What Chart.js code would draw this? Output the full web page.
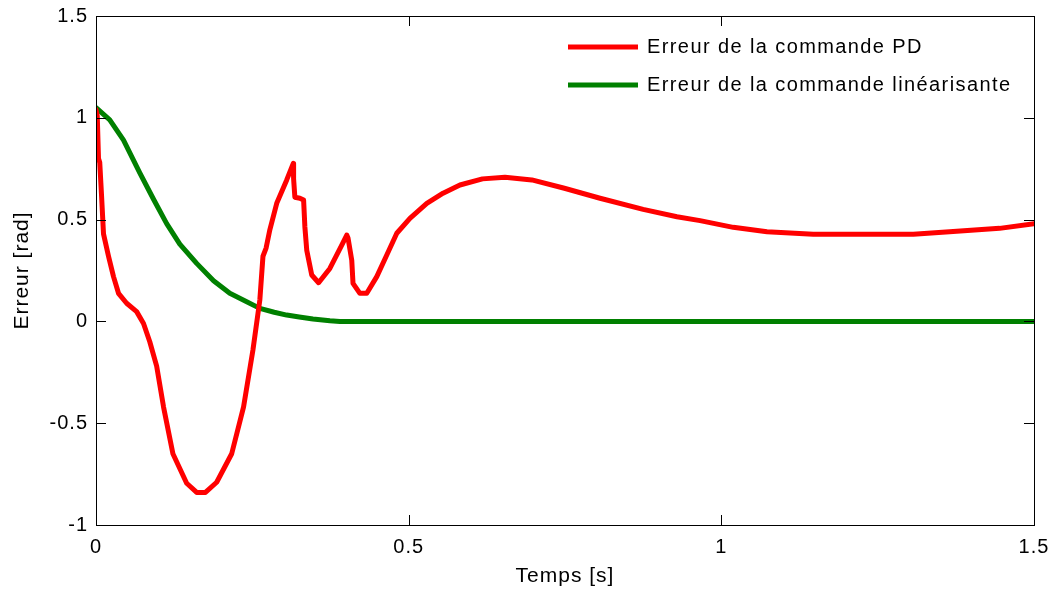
<!DOCTYPE html>
<html>
<head>
<meta charset="utf-8">
<title>Erreur</title>
<script src="https://cdn.jsdelivr.net/npm/chart.js@4.4.0/dist/chart.umd.min.js"></script>
<style>
  html, body { margin: 0; padding: 0; background: #fff; }
  #wrap { width: 1056px; height: 592px; }
</style>
</head>
<body>
<div id="wrap"><canvas id="myChart" width="1056" height="592"></canvas></div>
<script>
// temps [s] et erreur [rad]
const tPD = [0, 0.002, 0.004, 0.006, 0.009, 0.012, 0.020, 0.028, 0.036, 0.049, 0.065, 0.076, 0.086, 0.097,
    0.108, 0.123, 0.145, 0.161, 0.175, 0.193, 0.217, 0.236, 0.251, 0.262, 0.267, 0.272, 0.278, 0.289,
    0.305, 0.3155, 0.316, 0.318, 0.326, 0.332, 0.334, 0.337, 0.345, 0.356, 0.374, 0.393, 0.401, 0.403,
    0.409, 0.411, 0.422, 0.433, 0.449, 0.465, 0.481, 0.502, 0.529, 0.555, 0.582, 0.618, 0.654, 0.697,
    0.749, 0.806, 0.875, 0.929, 0.966, 1.019, 1.073, 1.147, 1.307, 1.365, 1.445, 1.5];
const errPD = [1.04, 1.01, 0.80, 0.78, 0.61, 0.43, 0.32, 0.22, 0.138, 0.089, 0.048, -0.01, -0.10, -0.22,
    -0.42, -0.65, -0.795, -0.84, -0.84, -0.79, -0.65, -0.42, -0.14, 0.105, 0.32, 0.36, 0.45, 0.58,
    0.695, 0.776, 0.70, 0.61, 0.605, 0.596, 0.465, 0.35, 0.228, 0.19, 0.26, 0.375, 0.424, 0.41,
    0.30, 0.187, 0.138, 0.138, 0.22, 0.326, 0.433, 0.506, 0.58, 0.63, 0.67, 0.70, 0.708, 0.695,
    0.654, 0.605, 0.55, 0.514, 0.495, 0.462, 0.44, 0.428, 0.428, 0.44, 0.457, 0.48];

const tLin = [0, 0.022, 0.044, 0.070, 0.092, 0.113, 0.134, 0.161, 0.188, 0.214, 0.241, 0.262, 0.285,
    0.305, 0.325, 0.347, 0.374, 0.39, 1.5];
const errLin = [1.05, 0.99, 0.89, 0.73, 0.60, 0.48, 0.38, 0.285, 0.20, 0.138, 0.097, 0.064, 0.045,
    0.031, 0.022, 0.012, 0.003, 0, 0];

const labels = ['Erreur de la commande PD', 'Erreur de la commande linéarisante'];
const xTicks = [0, 0.5, 1, 1.5];
const yTicks = [-1, -0.5, 0, 0.5, 1, 1.5];

const FONT = 'Arial, "Liberation Sans", sans-serif';

function pts(xs, ys) {
    return xs.map((x, i) => ({x: x, y: ys[i]}));
}

// espacement des lettres un peu plus large pour tout le texte des axes
const spacingPlugin = {
    id: 'spacingPlugin',
    beforeLayout(chart) { chart.ctx.letterSpacing = '1px'; },
    beforeDraw(chart) { chart.ctx.letterSpacing = '1px'; }
};

// boite, graduations vers l'interieur et legende dans la zone du trace
const boxPlugin = {
    id: 'boxPlugin',
    afterDraw(chart) {
        const {ctx, chartArea: a, scales} = chart;
        const tl = 10;
        ctx.save();
        ctx.strokeStyle = '#000';
        ctx.lineWidth = 1;
        ctx.strokeRect(Math.round(a.left) + 0.5, Math.round(a.top) + 0.5,
            Math.round(a.right - a.left), Math.round(a.bottom - a.top));
        ctx.beginPath();
        xTicks.forEach(v => {
            const px = Math.round(scales.x.getPixelForValue(v)) + 0.5;
            ctx.moveTo(px, a.bottom); ctx.lineTo(px, a.bottom - tl);
            ctx.moveTo(px, a.top); ctx.lineTo(px, a.top + tl);
        });
        yTicks.forEach(v => {
            const py = Math.round(scales.y.getPixelForValue(v)) + 0.5;
            ctx.moveTo(a.left, py); ctx.lineTo(a.left + tl, py);
            ctx.moveTo(a.right, py); ctx.lineTo(a.right - tl, py);
        });
        ctx.stroke();

        // legende
        ctx.font = '20px ' + FONT;
        ctx.letterSpacing = '1.4px';
        ctx.textBaseline = 'middle';
        ctx.fillStyle = '#000';
        chart.data.datasets.forEach((ds, i) => {
            const y = a.top + 31 + i * 38;
            const x0 = a.right - 466;
            ctx.strokeStyle = ds.borderColor;
            ctx.lineWidth = 5;
            ctx.beginPath();
            ctx.moveTo(x0, y); ctx.lineTo(x0 + 70, y);
            ctx.stroke();
            ctx.fillText(ds.label, x0 + 79, y);
        });
        ctx.restore();
    }
};

const ctx = document.getElementById('myChart');
const myChart = new Chart(ctx, {
    type: 'line',
    data: {
        datasets: [{
            label: labels[0],
            data: pts(tPD, errPD),
            borderColor: '#ff0000',
            borderWidth: 5,
            pointRadius: 0,
            tension: 0,
            borderJoinStyle: 'round',
            borderCapStyle: 'round'
        }, {
            label: labels[1],
            data: pts(tLin, errLin),
            borderColor: '#008000',
            borderWidth: 5,
            pointRadius: 0,
            tension: 0,
            borderJoinStyle: 'round',
            borderCapStyle: 'round'
        }]
    },
    options: {
        responsive: false,
        animation: false,
        devicePixelRatio: 1,
        layout: { padding: { top: 16, right: 22, left: 0, bottom: 0 } },
        plugins: {
            legend: { display: false },
            tooltip: { enabled: false }
        },
        scales: {
            x: {
                type: 'linear',
                min: 0, max: 1.5,
                afterFit(s) {
                    s.height = 67;
                    s.paddingLeft = 0;
                    s.paddingRight = 0;
                },
                afterBuildTicks(s) { s.ticks = xTicks.map(v => ({value: v})); },
                grid: { display: false, drawTicks: false },
                border: { display: false },
                ticks: {
                    padding: 10,
                    color: '#000',
                    font: { family: FONT, size: 20 },
                    maxRotation: 0,
                    callback: v => String(v)
                },
                title: {
                    display: true,
                    text: 'Temps [s]',
                    color: '#000',
                    font: { family: FONT, size: 21 },
                    padding: { top: 0, bottom: 3 }
                }
            },
            y: {
                type: 'linear',
                min: -1, max: 1.5,
                afterFit(s) {
                    s.width = 96;
                    s.paddingTop = 0;
                    s.paddingBottom = 0;
                },
                afterBuildTicks(s) { s.ticks = yTicks.map(v => ({value: v})); },
                grid: { display: false, drawTicks: false },
                border: { display: false },
                ticks: {
                    padding: 8,
                    color: '#000',
                    font: { family: FONT, size: 20 },
                    callback: v => String(v)
                },
                title: {
                    display: true,
                    text: 'Erreur [rad]',
                    color: '#000',
                    font: { family: FONT, size: 21 },
                    padding: { top: 10, bottom: 0 }
                }
            }
        }
    },
    plugins: [spacingPlugin, boxPlugin]
});
</script>
</body>
</html>
